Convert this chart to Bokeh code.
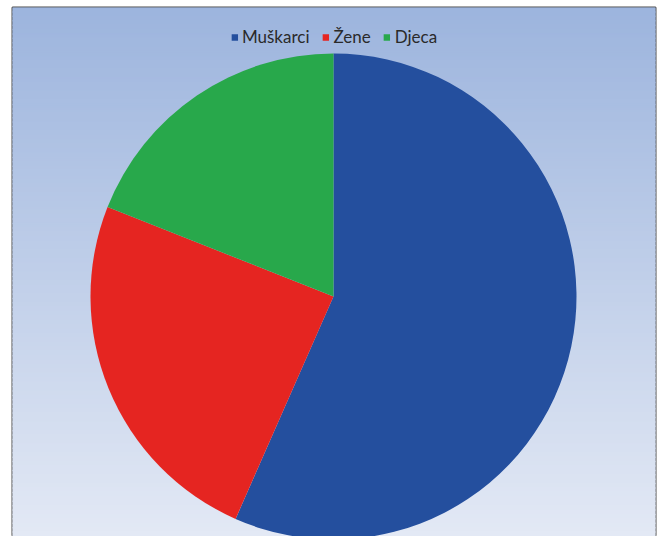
import numpy as np
from math import pi
from bokeh.plotting import figure
from bokeh.models import ColumnDataSource, Range1d, Legend, LegendItem
from bokeh.embed import file_html
from bokeh.resources import INLINE

categories = ["Muškarci", "Žene", "Djeca"]
values = [56.6, 24.4, 19.0]
colors = ["#244f9e", "#e52521", "#28a84b"]

W, H = 658, 536
p = figure(width=W, height=H, output_backend="svg", toolbar_location=None,
           x_range=Range1d(0, 643), y_range=Range1d(0, 529),
           min_border_left=12, min_border_right=3, min_border_top=7, min_border_bottom=0)
p.axis.visible = False
p.grid.visible = False
p.border_fill_color = "white"
p.outline_line_color = "#4a4a4a"
p.outline_line_width = 2

# background gradient (decoration)
n = 120
edges = np.linspace(529, 0, n + 1)
c0 = np.array([0x9d, 0xb5, 0xde])
c1 = np.array([0xe3, 0xe9, 0xf5])
grad_cols = []
for i in range(n):
    t = i / (n - 1)
    c = (c0 * (1 - t) + c1 * t).astype(int)
    grad_cols.append("#%02x%02x%02x" % tuple(c))
p.quad(left=0, right=643, top=edges[:-1], bottom=edges[1:], fill_color=grad_cols,
       line_color=grad_cols, line_width=1.5)

vals = np.array(values)
frac = vals / vals.sum()
cum = np.concatenate([[0], np.cumsum(frac)])
start = pi / 2 - cum[1:] * 2 * pi
end = pi / 2 - cum[:-1] * 2 * pi
src = ColumnDataSource(dict(cat=categories, start=start, end=end, color=colors))
cx, cy, r = 321, 240, 243
wr = p.wedge(x=cx, y=cy, radius=r, start_angle="start", end_angle="end",
             fill_color="color", line_color=None, source=src)

items = [LegendItem(label=c, renderers=[wr], index=i) for i, c in enumerate(categories)]
legend = Legend(items=items, orientation="horizontal", location="top_center",
                background_fill_alpha=0, border_line_alpha=0,
                glyph_width=8, glyph_height=8, label_standoff=4, spacing=12,
                label_text_font="Lato", label_text_font_size="17px",
                label_text_color="#2a2a2a", margin=10, padding=9)
p.add_layout(legend, "center")

open("out.html", "w").write(file_html(p, INLINE))
